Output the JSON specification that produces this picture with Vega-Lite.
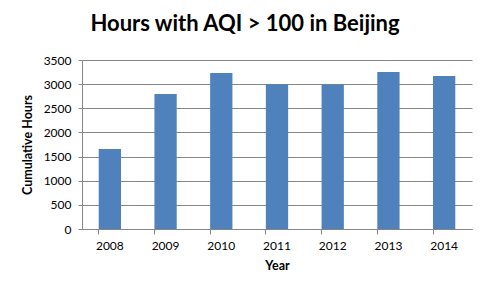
{
  "$schema": "https://vega.github.io/schema/vega-lite/v6.json",
  "autosize": "none",
  "width": 390,
  "height": 169,
  "padding": {"left": 82, "top": 60, "right": 19, "bottom": 64},
  "background": "white",
  "title": {
    "text": "Hours with AQI > 100 in Beijing",
    "font": "Lato",
    "fontSize": 22,
    "fontWeight": "bold",
    "color": "#000000",
    "anchor": "middle",
    "offset": 18,
    "dx": -32
  },
  "data": {
    "values": [
      {"Year": "2008", "Hours": 1657},
      {"Year": "2009", "Hours": 2796},
      {"Year": "2010", "Hours": 3231},
      {"Year": "2011", "Hours": 3000},
      {"Year": "2012", "Hours": 2995},
      {"Year": "2013", "Hours": 3251},
      {"Year": "2014", "Hours": 3169}
    ]
  },
  "mark": {"type": "bar", "color": "#4F81BD"},
  "encoding": {
    "x": {
      "field": "Year",
      "type": "ordinal",
      "scale": {"paddingInner": 0.6, "paddingOuter": 0.3},
      "axis": {
        "title": "Year",
        "labelAngle": 0,
        "bandPosition": 0,
        "tickSize": 5,
        "labelPadding": 6,
        "titlePadding": 8
      }
    },
    "y": {
      "field": "Hours",
      "type": "quantitative",
      "scale": {"domain": [0, 3500], "nice": false},
      "axis": {
        "title": "Cumulative Hours",
        "format": "d",
        "values": [0, 500, 1000, 1500, 2000, 2500, 3000, 3500],
        "tickSize": 4,
        "labelPadding": 7,
        "titlePadding": 9,
        "grid": true
      }
    }
  },
  "config": {
    "view": {"stroke": null},
    "axis": {
      "labelFont": "Lato",
      "labelFontSize": 12,
      "labelColor": "#000000",
      "titleFont": "Lato",
      "titleFontSize": 12.5,
      "titleFontWeight": "bold",
      "titleColor": "#000000",
      "domainColor": "#868686",
      "tickColor": "#868686",
      "gridColor": "#868686",
      "gridOpacity": 1
    }
  }
}
